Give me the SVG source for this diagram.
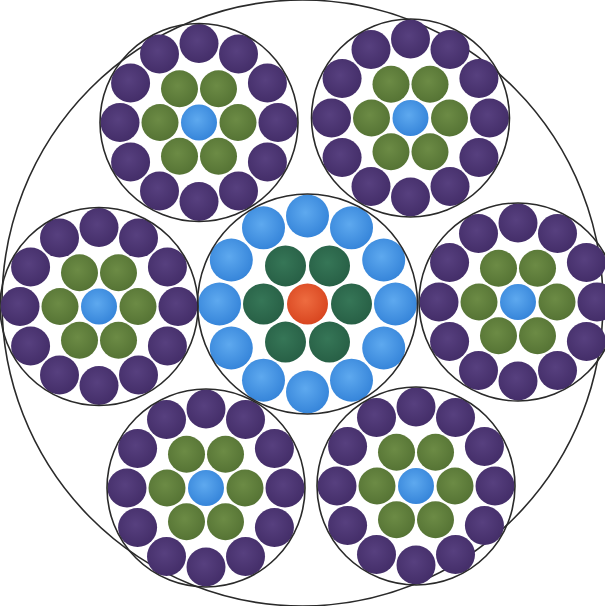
<svg xmlns="http://www.w3.org/2000/svg" xmlns:xlink="http://www.w3.org/1999/xlink" width="605" height="606" viewBox="0 0 605 606">
<style>
.outline{fill:none;stroke:#2a2a2a;stroke-width:1.6}
.p{fill:url(#gP)}
.g{fill:url(#gG)}
.b{fill:url(#gB)}
.d{fill:url(#gD)}
.r{fill:url(#gR)}
</style>
<defs>
<radialGradient id="gP" cx="45%" cy="42%" r="60%"><stop offset="0" stop-color="#57407f"/><stop offset="1" stop-color="#432d68"/></radialGradient>
<radialGradient id="gG" cx="45%" cy="42%" r="60%"><stop offset="0" stop-color="#6c8b45"/><stop offset="1" stop-color="#557334"/></radialGradient>
<radialGradient id="gB" cx="45%" cy="42%" r="60%"><stop offset="0" stop-color="#5ea9ef"/><stop offset="1" stop-color="#3584d9"/></radialGradient>
<radialGradient id="gD" cx="45%" cy="42%" r="60%"><stop offset="0" stop-color="#367657"/><stop offset="1" stop-color="#275f45"/></radialGradient>
<radialGradient id="gR" cx="45%" cy="42%" r="60%"><stop offset="0" stop-color="#ee6c40"/><stop offset="1" stop-color="#d8451f"/></radialGradient>
<g id="outerStrand">
<circle class="b" cx="0" cy="0" r="18"/>
<circle class="g" cx="39" cy="0" r="18.5"/>
<circle class="g" cx="19.5" cy="33.78" r="18.5"/>
<circle class="g" cx="-19.5" cy="33.78" r="18.5"/>
<circle class="g" cx="-39" cy="0" r="18.5"/>
<circle class="g" cx="-19.5" cy="-33.78" r="18.5"/>
<circle class="g" cx="19.5" cy="-33.78" r="18.5"/>
<circle class="p" cx="79" cy="0" r="19.5"/>
<circle class="p" cx="68.42" cy="39.5" r="19.5"/>
<circle class="p" cx="39.5" cy="68.42" r="19.5"/>
<circle class="p" cx="0" cy="79" r="19.5"/>
<circle class="p" cx="-39.5" cy="68.42" r="19.5"/>
<circle class="p" cx="-68.42" cy="39.5" r="19.5"/>
<circle class="p" cx="-79" cy="0" r="19.5"/>
<circle class="p" cx="-68.42" cy="-39.5" r="19.5"/>
<circle class="p" cx="-39.5" cy="-68.42" r="19.5"/>
<circle class="p" cx="0" cy="-79" r="19.5"/>
<circle class="p" cx="39.5" cy="-68.42" r="19.5"/>
<circle class="p" cx="68.42" cy="-39.5" r="19.5"/>
<circle class="outline" cx="0" cy="0" r="99"/>
</g>
</defs>
<rect width="605" height="606" fill="#ffffff"/>
<ellipse id="rope" class="outline" cx="302.5" cy="303" rx="300.5" ry="303"/>
<g id="core-strand" transform="translate(307.5 304)">
<circle class="r" cx="0" cy="0" r="20.5"/>
<circle class="d" cx="44" cy="0" r="20.5"/>
<circle class="d" cx="22" cy="38.1" r="20.5"/>
<circle class="d" cx="-22" cy="38.1" r="20.5"/>
<circle class="d" cx="-44" cy="0" r="20.5"/>
<circle class="d" cx="-22" cy="-38.1" r="20.5"/>
<circle class="d" cx="22" cy="-38.1" r="20.5"/>
<circle class="b" cx="88" cy="0" r="21.5"/>
<circle class="b" cx="76.21" cy="44" r="21.5"/>
<circle class="b" cx="44" cy="76.21" r="21.5"/>
<circle class="b" cx="0" cy="88" r="21.5"/>
<circle class="b" cx="-44" cy="76.21" r="21.5"/>
<circle class="b" cx="-76.21" cy="44" r="21.5"/>
<circle class="b" cx="-88" cy="0" r="21.5"/>
<circle class="b" cx="-76.21" cy="-44" r="21.5"/>
<circle class="b" cx="-44" cy="-76.21" r="21.5"/>
<circle class="b" cx="0" cy="-88" r="21.5"/>
<circle class="b" cx="44" cy="-76.21" r="21.5"/>
<circle class="b" cx="76.21" cy="-44" r="21.5"/>
<circle class="outline" cx="0" cy="0" r="110"/>
</g>
<g id="strand-top-left"><use href="#outerStrand" x="199" y="122.5"/></g>
<g id="strand-top-right"><use href="#outerStrand" x="410.5" y="118"/></g>
<g id="strand-left"><use href="#outerStrand" x="99" y="306.5"/></g>
<g id="strand-right"><use href="#outerStrand" x="518" y="302"/></g>
<g id="strand-bottom-left"><use href="#outerStrand" x="206" y="488"/></g>
<g id="strand-bottom-right"><use href="#outerStrand" x="416" y="486"/></g>
</svg>
